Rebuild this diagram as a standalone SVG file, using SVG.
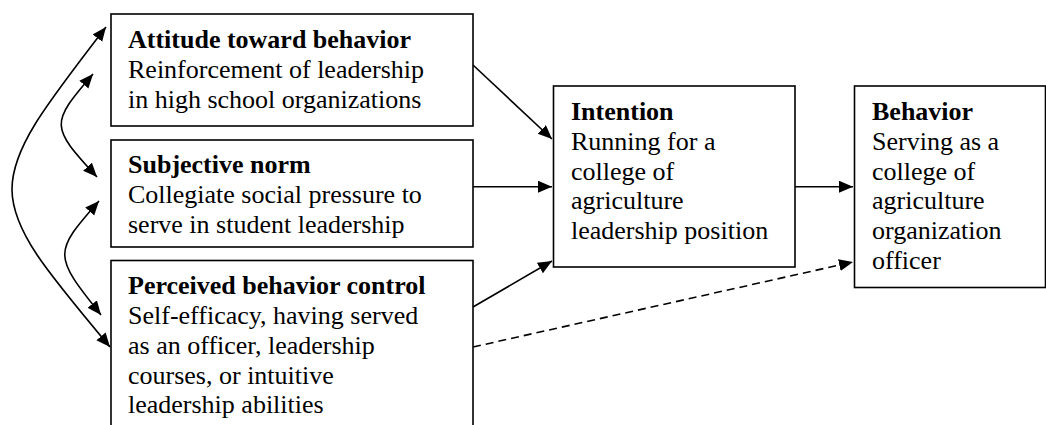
<svg xmlns="http://www.w3.org/2000/svg" width="1046" height="425" viewBox="0 0 1046 425">
<style>
.box{fill:#fff;stroke:#000;stroke-width:1.6}
.t{font-family:"Liberation Serif","Times New Roman",serif;font-size:26px;fill:#000}
.b{font-weight:bold}
.c{fill:none;stroke:#000;stroke-width:1.6}
.d{stroke-dasharray:8 5}
</style>
<defs>
<marker id="ah" markerUnits="userSpaceOnUse" markerWidth="15" markerHeight="13" refX="14" refY="6" orient="auto-start-reverse" viewBox="0 0 15 13">
<path d="M0,0 L14,6 L0,12 Z" fill="#000"/>
</marker>
</defs>
<rect width="1046" height="425" fill="#fff"/>
<g id="connectors">
<path class="c" d="M473,65 L552,139" marker-end="url(#ah)"/>
<path class="c" d="M473,186.7 L552,186.7" marker-end="url(#ah)"/>
<path class="c" d="M473,307 L552,261" marker-end="url(#ah)"/>
<path class="c" d="M795,186.7 L853,186.7" marker-end="url(#ah)"/>
<path class="c d" d="M473,347 L853,262" marker-end="url(#ah)"/>
<path class="c" d="M106,27 C-20,190 -20,192 110,347" marker-start="url(#ah)" marker-end="url(#ah)"/>
<path class="c" d="M93,74 C50,124 50,126 97,177" marker-start="url(#ah)" marker-end="url(#ah)"/>
<path class="c" d="M99,201 C53,253 53,255 101,315" marker-start="url(#ah)" marker-end="url(#ah)"/>
</g>
<g id="attitude">
<rect class="box" x="111" y="14" width="362" height="112"/>
<text class="t b" x="128" y="48">Attitude toward behavior</text>
<text class="t" x="128" y="77.75">Reinforcement of leadership</text>
<text class="t" x="128" y="107.5">in high school organizations</text>
</g>
<g id="subjective">
<rect class="box" x="111" y="140" width="362" height="107"/>
<text class="t b" x="128" y="173.3">Subjective norm</text>
<text class="t" x="128" y="203">Collegiate social pressure to</text>
<text class="t" x="128" y="232.8">serve in student leadership</text>
</g>
<g id="perceived">
<rect class="box" x="111" y="260.5" width="362" height="200"/>
<text class="t b" x="128" y="294.3">Perceived behavior control</text>
<text class="t" x="128" y="324">Self-efficacy, having served</text>
<text class="t" x="128" y="353.8">as an officer, leadership</text>
<text class="t" x="128" y="383.5">courses, or intuitive</text>
<text class="t" x="128" y="413.3">leadership abilities</text>
</g>
<g id="intention">
<rect class="box" x="553.5" y="86" width="241.5" height="181"/>
<text class="t b" x="571" y="120">Intention</text>
<text class="t" x="571" y="149.75">Running for a</text>
<text class="t" x="571" y="179.5">college of</text>
<text class="t" x="571" y="209.25">agriculture</text>
<text class="t" x="571" y="239">leadership position</text>
</g>
<g id="behavior">
<rect class="box" x="854.5" y="86" width="191" height="201.5"/>
<text class="t b" x="872" y="120">Behavior</text>
<text class="t" x="872" y="149.75">Serving as a</text>
<text class="t" x="872" y="179.5">college of</text>
<text class="t" x="872" y="209.25">agriculture</text>
<text class="t" x="872" y="239">organization</text>
<text class="t" x="872" y="268.75">officer</text>
</g>
</svg>
